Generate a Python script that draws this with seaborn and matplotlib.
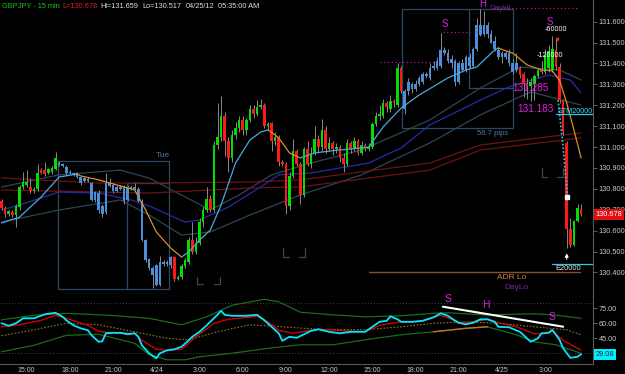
import numpy as np
import pandas as pd
import matplotlib
matplotlib.use('Agg')
import matplotlib.pyplot as plt
from matplotlib.patches import Rectangle
import seaborn as sns

# DATA ########################################################################
start = '2012-04-23 13:15'   # first 15 min bar

opens = [130.74, 130.71, 130.68, 130.69, 130.675, 130.715, 130.81, 130.82, 130.81, 130.79,
         130.80, 130.89, 130.89, 130.875, 130.88, 130.894, 130.925, 130.918, 130.905, 130.88,
         130.875, 130.874, 130.855, 130.84, 130.845, 130.83, 130.745, 130.78, 130.72, 130.69,
         130.83, 130.82, 130.79, 130.81, 130.81, 130.745, 130.81, 130.81, 130.80, 130.74,
         130.556, 130.465, 130.42, 130.435, 130.34, 130.45, 130.44, 130.435, 130.475, 130.37,
         130.38, 130.43, 130.45, 130.555, 130.50, 130.54, 130.64, 130.70, 130.75, 130.70,
         131.01, 131.05, 131.15, 131.03, 130.95, 131.06, 131.09, 131.13, 131.08, 131.13,
         131.18, 131.16, 131.19, 131.20, 131.10, 131.115, 131.03, 131.05, 130.93, 130.92,
         130.72, 130.86, 130.98, 130.92, 130.77, 130.99, 130.92, 130.97, 131.04, 131.00,
         131.08, 130.99, 131.02, 130.99, 131.00, 130.95, 130.92, 131.02, 130.99, 131.03,
         130.97, 131.01, 130.99, 131.00, 131.11, 131.15, 131.15, 131.21, 131.18, 131.22,
         131.20, 131.38, 131.27, 131.27, 131.30, 131.28, 131.30, 131.31, 131.35, 131.33,
         131.38, 131.38, 131.39, 131.465, 131.45, 131.42, 131.41, 131.31, 131.40, 131.37,
         131.43, 131.39, 131.47, 131.585, 131.54, 131.585, 131.54, 131.51, 131.465, 131.43,
         131.43, 131.45, 131.40, 131.40, 131.38, 131.35, 131.30, 131.29, 131.30, 131.34,
         131.37, 131.36, 131.38, 131.37, 131.465, 131.385, 131.225, 131.02, 130.61, 130.53,
         130.645, 130.705]
highs = [130.75, 130.72, 130.70, 130.70, 130.73, 130.82, 130.88, 130.89, 130.85, 130.81,
         130.92, 130.90, 130.927, 130.90, 130.91, 130.975, 130.935, 130.925, 130.915, 130.89,
         130.88, 130.88, 130.86, 130.855, 130.855, 130.835, 130.79, 130.795, 130.73, 130.875,
         130.85, 130.83, 130.82, 130.82, 130.82, 130.82, 130.82, 130.83, 130.81, 130.75,
         130.56, 130.47, 130.43, 130.44, 130.48, 130.46, 130.46, 130.48, 130.48, 130.39,
         130.44, 130.47, 130.57, 130.64, 130.57, 130.66, 130.72, 130.81, 130.77, 131.03,
         131.21, 131.245, 131.17, 131.05, 131.08, 131.12, 131.15, 131.15, 131.14, 131.20,
         131.20, 131.225, 131.23, 131.21, 131.12, 131.12, 131.07, 131.06, 130.94, 130.93,
         130.88, 131.04, 130.99, 130.93, 131.00, 131.03, 131.00, 131.10, 131.06, 131.135,
         131.10, 131.05, 131.03, 131.02, 131.01, 130.97, 131.04, 131.03, 131.05, 131.04,
         131.03, 131.02, 131.02, 131.12, 131.17, 131.20, 131.23, 131.22, 131.25, 131.23,
         131.40, 131.39, 131.28, 131.33, 131.31, 131.32, 131.34, 131.36, 131.36, 131.40,
         131.41, 131.43, 131.545, 131.48, 131.47, 131.44, 131.42, 131.41, 131.42, 131.44,
         131.45, 131.48, 131.62, 131.659, 131.65, 131.60, 131.56, 131.53, 131.48, 131.46,
         131.46, 131.47, 131.42, 131.45, 131.39, 131.36, 131.33, 131.33, 131.35, 131.38,
         131.41, 131.47, 131.49, 131.53, 131.52, 131.40, 131.23, 131.03, 130.66, 130.65,
         130.73, 130.73]
lows = [130.70, 130.665, 130.67, 130.665, 130.62, 130.70, 130.80, 130.81, 130.78, 130.78,
        130.79, 130.87, 130.86, 130.87, 130.87, 130.89, 130.91, 130.905, 130.865, 130.87,
        130.86, 130.85, 130.82, 130.835, 130.835, 130.74, 130.735, 130.685, 130.665, 130.68,
        130.81, 130.78, 130.785, 130.795, 130.73, 130.74, 130.795, 130.795, 130.735, 130.55,
        130.45, 130.41, 130.324, 130.336, 130.335, 130.43, 130.43, 130.42, 130.36, 130.365,
        130.37, 130.42, 130.44, 130.49, 130.49, 130.53, 130.62, 130.69, 130.69, 130.69,
        130.99, 131.03, 130.955, 130.88, 130.93, 131.04, 131.07, 131.06, 131.06, 131.12,
        131.14, 131.15, 131.18, 131.09, 131.08, 130.98, 131.01, 130.91, 130.91, 130.68,
        130.70, 130.85, 130.91, 130.73, 130.76, 130.91, 130.90, 130.96, 130.97, 130.98,
        130.97, 130.98, 130.96, 130.97, 130.93, 130.88, 130.91, 130.97, 130.98, 130.96,
        130.96, 130.98, 130.98, 130.99, 131.10, 131.13, 131.14, 131.17, 131.17, 131.19,
        131.19, 131.26, 131.16, 131.25, 131.26, 131.27, 131.29, 131.30, 131.33, 131.32,
        131.37, 131.37, 131.38, 131.44, 131.40, 131.38, 131.29, 131.30, 131.36, 131.36,
        131.38, 131.38, 131.46, 131.53, 131.53, 131.52, 131.50, 131.46, 131.42, 131.40,
        131.42, 131.39, 131.35, 131.36, 131.33, 131.24, 131.23, 131.22, 131.225, 131.33,
        131.35, 131.35, 131.36, 131.36, 131.37, 131.21, 131.06, 130.517, 130.52, 130.525,
        130.64, 130.67]
closes = [130.71, 130.68, 130.695, 130.675, 130.718, 130.81, 130.835, 130.835, 130.79, 130.80,
          130.878, 130.875, 130.87, 130.895, 130.90, 130.95, 130.915, 130.91, 130.875, 130.875,
          130.866, 130.858, 130.83, 130.85, 130.84, 130.745, 130.785, 130.70, 130.68, 130.83,
          130.815, 130.79, 130.81, 130.80, 130.74, 130.81, 130.80, 130.80, 130.74, 130.556,
          130.46, 130.42, 130.39, 130.34, 130.45, 130.44, 130.45, 130.475, 130.37, 130.38,
          130.43, 130.46, 130.555, 130.50, 130.54, 130.64, 130.70, 130.75, 130.70, 131.01,
          131.05, 131.15, 131.03, 130.95, 131.06, 131.09, 131.13, 131.08, 131.13, 131.18,
          131.16, 131.19, 131.20, 131.10, 131.11, 131.03, 131.05, 130.93, 130.92, 130.72,
          130.86, 130.98, 130.92, 130.77, 130.99, 130.92, 130.97, 131.04, 131.00, 131.08,
          130.99, 131.02, 130.99, 131.00, 130.95, 130.92, 131.02, 130.99, 131.03, 130.97,
          131.01, 130.99, 131.00, 131.11, 131.15, 131.16, 131.21, 131.19, 131.22, 131.21,
          131.38, 131.27, 131.18, 131.31, 131.28, 131.30, 131.33, 131.35, 131.34, 131.38,
          131.39, 131.41, 131.465, 131.45, 131.41, 131.40, 131.31, 131.40, 131.37, 131.43,
          131.39, 131.47, 131.585, 131.535, 131.585, 131.54, 131.50, 131.47, 131.43, 131.45,
          131.45, 131.40, 131.36, 131.37, 131.345, 131.30, 131.29, 131.31, 131.34, 131.37,
          131.36, 131.44, 131.46, 131.47, 131.385, 131.225, 131.07, 130.61, 130.53, 130.645,
          130.71, 130.678]

# moving averages (bar index, price)
fast_n = [0, 5, 11, 16, 21, 22, 27, 37, 40, 43, 47, 50, 52, 55, 58, 61, 65, 69, 72, 74, 76, 77, 80,
          83, 87, 92, 97, 102, 106, 111, 116, 124, 129, 132, 137, 138, 141, 142, 146, 150, 153,
          155, 157, 159, 161]
fast_p = [130.637, 130.665, 130.761, 130.857, 130.871, 130.862, 130.843, 130.795, 130.70, 130.594,
          130.517, 130.474, 130.498, 130.555, 130.603, 130.723, 130.924, 131.034, 131.072, 131.082,
          131.058, 131.044, 130.972, 130.948, 130.972, 130.983, 130.991, 131.0, 131.096, 131.187,
          131.249, 131.331, 131.369, 131.383, 131.465, 131.474, 131.455, 131.45, 131.393, 131.369,
          131.365, 131.321, 131.211, 131.082, 130.948]
navy_n = [0, 5, 16, 27, 36, 41, 51, 55, 63, 72, 77, 86, 102, 111, 119, 133, 141, 152, 158, 161]
navy_p = [130.699, 130.723, 130.785, 130.780, 130.747, 130.718, 130.641, 130.651, 130.713, 130.809,
          130.867, 130.876, 130.924, 130.996, 131.106, 131.225, 131.288, 131.345, 131.321, 131.259]
slate_up_n = [0, 16, 33, 41, 50, 58, 66, 75, 86, 100, 119, 133, 144, 155, 161]
slate_up_p = [130.809, 130.867, 130.890, 130.852, 130.771, 130.699, 130.771, 130.867, 130.924,
              130.986, 131.130, 131.283, 131.383, 131.369, 131.321]
slate_lo_n = [0, 16, 33, 41, 50, 58, 69, 83, 100, 119, 133, 147, 161]
slate_lo_p = [130.641, 130.699, 130.747, 130.675, 130.579, 130.594, 130.675, 130.771, 130.867,
              131.020, 131.154, 131.264, 131.201]
red_n = [0, 27, 41, 69, 83, 119, 133, 161]
red_up_p = [130.852, 130.828, 130.828, 130.833, 130.843, 130.924, 131.010, 131.068]
red_lo_p = [130.795, 130.785, 130.780, 130.804, 130.809, 130.890, 130.986, 131.044]

# lower panel oscillator
rsi_n = [0, 2, 4, 6, 9, 12, 15, 17, 18, 20, 22, 24, 25, 27, 28, 29, 31, 33, 35, 37, 38, 39, 41, 43,
         44, 46, 48, 50, 52, 53, 55, 57, 59, 61, 62, 64, 68, 71, 73, 75, 77, 78, 80, 82, 84, 86, 88,
         91, 94, 97, 101, 103, 105, 107, 108, 110, 111, 114, 117, 120, 122, 124, 125, 127, 129,
         131, 133, 135, 137, 138, 141, 144, 147, 149, 150, 152, 153, 155, 156, 158, 160, 161]
rsi_v = [60, 57.5, 60, 65, 65, 69, 70.5, 66.5, 63, 58, 55, 53, 48, 41.5, 42, 50, 50.5, 50.5, 49, 50,
         46.5, 38, 30, 25, 30, 33, 34, 36.5, 43, 46.5, 51.5, 58, 65, 72.5, 68.5, 67.5, 67.5, 68.5,
         63, 56.5, 50, 42.5, 46.5, 45.5, 49, 52.5, 54, 51.5, 50, 51.5, 51.5, 56.5, 61.5, 62.5, 67,
         64, 61.5, 61.5, 62.5, 66, 70, 67.5, 65, 60.5, 59, 60.5, 64, 64, 61.5, 56.5, 56, 51.5,
         41.5, 45, 50, 50.5, 53.5, 43.5, 35, 25.5, 26.5, 29.08]
sig_n = [0, 5, 11, 15, 18, 24, 27, 30, 37, 39, 43, 46, 50, 54, 59, 63, 71, 74, 77, 81, 86, 88, 101,
         105, 111, 116, 122, 125, 127, 129, 135, 138, 143, 148, 151, 153, 156, 161]
sig_v = [56.5, 58.5, 63, 68, 65, 58, 52, 50.5, 50, 43, 34, 33, 34, 46.5, 60, 64, 67, 61.5, 53, 50,
         53, 54, 51.5, 58, 61.5, 61.5, 68, 64, 60, 60.5, 64, 60.5, 56.5, 49.5, 49.5, 52.5, 43, 33]
up_n = [0, 9, 18, 30, 41, 50, 57, 64, 73, 77, 83, 92, 101, 111, 120, 124, 134, 148, 153, 161]
up_v = [63.5, 68, 70, 68, 65, 58.5, 66.5, 78, 84, 81.5, 71, 68.5, 66.5, 67.5, 70, 70.5, 68.5, 69.5,
        68.5, 65]
lo_n = [0, 9, 18, 27, 37, 41, 46, 51, 55, 64, 74, 83, 92, 101, 111, 120, 129, 135, 143, 148, 154, 161]
lo_v = [31.5, 38, 48, 49, 40, 28.5, 23.5, 23.5, 26.5, 30, 35, 38.5, 38.5, 43.5, 48.5, 51.5, 55,
        56.5, 48.5, 41.5, 38.5, 30]
mid_n = [0, 9, 18, 27, 37, 46, 52, 60, 69, 78, 88, 101, 111, 120, 129, 138, 148, 157, 161]
mid_v = [47.5, 53.5, 60, 58.5, 51.5, 45, 43.5, 51.5, 58.5, 56.5, 54, 53.5, 56.5, 60, 61.5, 60,
         56.5, 53.5, 48.5]

price_ticks = [130.4, 130.5, 130.6, 130.7, 130.8, 130.9, 131.0, 131.1, 131.2, 131.3, 131.4, 131.5, 131.6]
osc_ticks = [45, 60, 75]
last_price = 130.678
last_osc = 29.08

# STYLE #######################################################################
BLUE_SPANS = [(16, 47), (112, 143)]
ORANGE_BAND = (120, 138)
BRACKETS = [(54.3, 60.7, 130.378, 130.345), (78.2, 84.3, 130.517, 130.474),
            (150.0, 156.0, 130.898, 130.858)]
FONT = ['Liberation Sans', 'DejaVu Sans']
TXT = '#c8c8c8'
BOXC = '#2e4a62'

sns.set_theme(style='dark', rc={'axes.facecolor': 'black', 'figure.facecolor': 'black'})
plt.rcParams['font.family'] = FONT

W, H = 625, 374
fig = plt.figure(figsize=(W / 100, H / 100), dpi=100)
ax = fig.add_axes([0, 1 - 297 / H, 593 / W, 297 / H])
axi = fig.add_axes([0, 1 - 364 / H, 593 / W, 67 / H], sharex=ax)

bars = pd.DataFrame({'open': opens, 'high': highs, 'low': lows, 'close': closes})
bars['n'] = np.arange(len(bars))
bars['time'] = pd.date_range(start, periods=len(bars), freq='15min')

# CANDLES #####################################################################
blue = np.zeros(len(bars), bool)
for a, b in BLUE_SPANS:
    blue[a:b + 1] = True
body_col = np.where(blue, '#4a8fd8', np.where(bars.close >= bars.open, '#00e000', '#ff1818'))
ax.vlines(bars.n, bars.low, bars.high, color='#8a8a8a', lw=0.7, zorder=3)
bottom = bars[['open', 'close']].min(axis=1)
height = (bars.close - bars.open).abs().clip(lower=0.004)
ax.bar(bars.n, height, bottom=bottom, width=0.74, color=body_col, linewidth=0, zorder=4)

# MOVING AVERAGES #############################################################
for nn, pp, col in [(slate_up_n, slate_up_p, '#2b4656'), (slate_lo_n, slate_lo_p, '#2b4656'),
                    (red_n, red_up_p, '#6e1212'), (red_n, red_lo_p, '#6e1212'),
                    (navy_n, navy_p, '#2a2aa8')]:
    sns.lineplot(x=nn, y=pp, ax=ax, color=col, lw=0.9, zorder=2)

fast = pd.DataFrame({'n': fast_n, 'p': fast_p})
d = np.sign(np.diff(fast.p))
s = 0
for k in range(1, len(d) + 1):
    if k == len(d) or d[k] != d[s]:
        seg = fast.iloc[s:k + 1]
        sns.lineplot(data=seg, x='n', y='p', ax=ax, lw=0.9, zorder=5,
                     color='#4aa8dc' if d[s] > 0 else '#d89028')
        s = k

# ANNOTATIONS #################################################################
box = dict(fill=False, ec=BOXC, lw=0.9, zorder=1)
ax.add_patch(Rectangle((15.8, 130.320), 30.8, 0.614, **box))
ax.plot([34.8, 34.8, 46.6], [130.320, 130.827, 130.827], color=BOXC, lw=0.9, zorder=1)
ax.text(44.9, 130.958, 'Tue', color='#4a78a8', fontsize=6, ha='center', va='center')
ax.add_patch(Rectangle((111.2, 131.092), 30.8, 0.567, **box))
ax.plot([129.9, 129.9, 142.0], [131.659, 131.281, 131.281], color=BOXC, lw=0.9, zorder=1)
ax.text(136.5, 131.067, '56.7 pips', color='#4a78a8', fontsize=5.6, ha='center', va='center')
for x0, x1, ytop, ybot in BRACKETS:
    ax.plot([x0, x0, x0 + 1.6], [ytop, ybot, ybot], color=BOXC, lw=0.9, zorder=1)
    ax.plot([x1 - 1.6, x1, x1], [ybot, ybot, ytop], color=BOXC, lw=0.9, zorder=1)

dot = dict(color='#a020a0', lw=0.9, ls=(0, (1, 2)), zorder=2)
ax.plot([105, 122.6], [131.407, 131.407], **dot)
ax.plot([122.6, 130], [131.551, 131.551], **dot)
ax.plot([136.5, 160], [131.665, 131.665], **dot)
ax.text(135.5, 131.663, 'DayHi', color='#7a2a7a', fontsize=5.6, va='center')

mag = dict(color='#e020e0', fontsize=7, ha='center', va='center', zorder=8)
ax.text(123, 131.589, 'S', **mag)
ax.text(133.75, 131.685, 'H', **mag)
ax.text(152.4, 131.597, 'S', **mag)
ax.text(146.8, 131.283, '131.285', color='#e020e0', fontsize=7.2, ha='center', va='center', zorder=8)
ax.text(148.2, 131.182, '131.183', color='#e020e0', fontsize=7.2, ha='center', va='center', zorder=8)
ax.text(154.0, 131.562, '-60000', color='white', fontsize=5.2, ha='center', va='center', zorder=8)
ax.text(152.2, 131.44, '-120000', color='white', fontsize=5.2, ha='center', va='center', zorder=8)
ax.annotate('', xy=(154.5, 131.49), xytext=(154.5, 131.535),
            arrowprops=dict(arrowstyle='-|>', color='#ff2020', lw=0.8, mutation_scale=4), zorder=8)

ax.plot([154, 164.3], [131.158, 131.158], color='#30c8e8', lw=0.9, zorder=6)
ax.text(159.3, 131.172, 'STM20000', color='#40d8ff', fontsize=5.2, ha='center', va='center', zorder=8)
ax.plot([153, 164.3], [130.441, 130.441], color='#30c8e8', lw=0.9, zorder=6)
ax.text(157.4, 130.421, 'E20000', color='#e0e0e0', fontsize=5.4, ha='center', va='center', zorder=8)
ax.plot([102, 160.7], [130.404, 130.404], color='#8a5020', lw=1.0, zorder=2)
ax.text(141.8, 130.378, 'ADR Lo', color='#d08040', fontsize=6, ha='center', va='center')
ax.text(143, 130.326, 'DayLo', color='#7a2a9a', fontsize=6, ha='center', va='center')

ax.plot([154.6, 156.0, 157.2], [131.225, 131.0, 130.76], color='#30d0e0', lw=1.2,
        ls=(0, (1, 1.2)), zorder=7)
ax.plot([157.2], [130.76], marker='s', ms=2.5, color='white', zorder=8)
ax.annotate('', xy=(157, 130.505), xytext=(157, 130.45),
            arrowprops=dict(arrowstyle='-|>', color='white', lw=0.8, mutation_scale=5), zorder=8)

# AXES MAIN ###################################################################
ax.set_xlim(-0.42, 164.3)
ax.set_ylim(130.2827, 131.7038)
ax.set_xlabel('')
ax.set_ylabel('')
ax.yaxis.tick_right()
ax.set_yticks(price_ticks)
ax.set_yticklabels([f'{v:.3f}' for v in price_ticks])
ax.tick_params(axis='y', colors='#707070', labelcolor=TXT, labelsize=5.3, length=3, width=0.6, pad=1, right=True)
ax.tick_params(axis='x', bottom=False, labelbottom=False)
for side in ['left', 'top']:
    ax.spines[side].set_visible(False)
for side in ['right', 'bottom']:
    ax.spines[side].set_color('#5a5a5a')
    ax.spines[side].set_linewidth(0.8)
ax.text(1.004, last_price, f'{last_price:.3f}', transform=ax.get_yaxis_transform(), color='white',
        fontsize=5.3, ha='left', va='center', zorder=10, clip_on=False,
        bbox=dict(boxstyle='square,pad=0.25', fc='#e01010', ec='none'))

# OSCILLATOR ##################################################################
for lvl in [80, 30]:
    axi.axhline(lvl, color='#40405a', lw=0.7, ls=(0, (1, 2)))
sns.lineplot(x=up_n, y=up_v, ax=axi, color='#1d6a1d', lw=0.9)
sns.lineplot(x=lo_n, y=lo_v, ax=axi, color='#1d6a1d', lw=0.9)
band = pd.DataFrame({'n': lo_n, 'v': lo_v})
band = band[(band.n >= ORANGE_BAND[0]) & (band.n <= ORANGE_BAND[1])]
sns.lineplot(data=band, x='n', y='v', ax=axi, color='#c87020', lw=1.0)
sns.lineplot(x=mid_n, y=mid_v, ax=axi, color='#8a7a20', lw=0.8, ls=(0, (1.5, 1.5)))
sns.lineplot(x=sig_n, y=sig_v, ax=axi, color='#e00000', lw=0.9)
sns.lineplot(x=rsi_n, y=rsi_v, ax=axi, color='#00e8ff', lw=1.3)
axi.plot([122.6, 156], [76.6, 56.6], color='white', lw=1.5, zorder=6)
mag2 = dict(color='#e020e0', fontsize=7.5, ha='center', va='center', zorder=8, clip_on=False)
axi.text(124, 84, 'S', **mag2)
axi.text(134.6, 78.3, 'H', **mag2)
axi.text(152.9, 66.3, 'S', **mag2)

axi.set_ylim(19.3, 86.3)
axi.set_xlabel('')
axi.set_ylabel('')
axi.yaxis.tick_right()
axi.set_yticks(osc_ticks)
axi.set_yticklabels([f'{v:.2f}' for v in osc_ticks])
axi.tick_params(axis='y', colors='#707070', labelcolor=TXT, labelsize=5.3, length=3, width=0.6, pad=1, right=True)

tk = bars[(bars.time.dt.minute == 0) & (bars.time.dt.hour % 3 == 0)]
labels = [f'{t.month}/{t.day}' if t.hour == 0 else f'{t.hour}:00' for t in tk.time]
axi.set_xticks(tk.n)
axi.set_xticklabels(labels)
axi.tick_params(axis='x', colors=TXT, labelsize=5.0, length=0, pad=2)
for side in ['left', 'top']:
    axi.spines[side].set_visible(False)
for side in ['right', 'bottom']:
    axi.spines[side].set_color('#5a5a5a')
    axi.spines[side].set_linewidth(0.8)
axi.text(1.004, last_osc, f'{last_osc:.2f}', transform=axi.get_yaxis_transform(), color='#103030',
         fontsize=5.3, ha='left', va='center', zorder=10, clip_on=False,
         bbox=dict(boxstyle='square,pad=0.25', fc='#00f0ff', ec='none'))

# HEADER ######################################################################
y0 = 1 - 6 / H
hdr = dict(fontsize=5.3, va='center')
fig.text(2 / W, y0, 'GBPJPY - 15 min', color='#20c020', **hdr)
fig.text(62 / W, y0, 'L=130.678', color='#e02020', **hdr)
fig.text(100 / W, y0, 'Hi=131.659', color='#e0e0e0', **hdr)
fig.text(142 / W, y0, 'Lo=130.517', color='#e0e0e0', **hdr)
fig.text(186 / W, y0, '04/25/12', color='#e0e0e0', **hdr)
fig.text(218 / W, y0, '05:35:00 AM', color='#e0e0e0', **hdr)

fig.savefig('out.png', dpi=100, facecolor='black')
